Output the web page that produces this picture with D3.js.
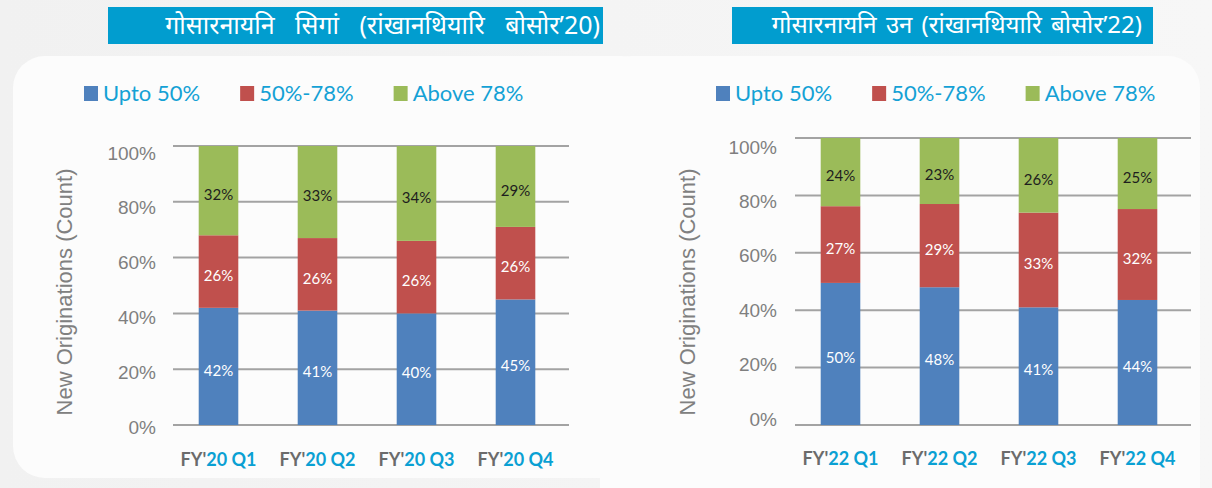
<!DOCTYPE html>
<meta charset="utf-8">
<script src="https://d3js.org/d3.v7.min.js"></script>
<style>
  body { margin: 0; background: #f4f4f4; }
</style>
<div id="my_dataviz"></div>
<script>

// ---- data ----
var seriesNames = ["Upto 50%", "50%-78%", "Above 78%"];
var seriesColors = ["#4f81bd", "#c0504d", "#9bbb59"];
var quarters = ["Q1", "Q2", "Q3", "Q4"];
var yTicks = [0, 20, 40, 60, 80, 100];

// FY'20
var title20 = "गोसारनायनि सिगां (रांखानथियारि बोसोर’20)";
var year20 = "20";
var upto50_20 = [42, 41, 40, 45];
var mid_20 = [26, 26, 26, 26];
var above78_20 = [32, 33, 34, 29];

// FY'22
var title22 = "गोसारनायनि उन (रांखानथियारि बोसोर’22)";
var year22 = "22";
var upto50_22 = [50, 48, 41, 44];
var mid_22 = [27, 29, 33, 32];
var above78_22 = [24, 23, 26, 25];

var W = 1212, H = 488;

var svg = d3.select("#my_dataviz")
  .append("svg")
    .attr("width", W)
    .attr("height", H);

// light page background + two rounded panels
var bg = svg.append("defs").append("linearGradient")
    .attr("id", "bgGrad").attr("x1", 0).attr("x2", 1);
bg.append("stop").attr("offset", "0%").attr("stop-color", "#f1f1f1");
bg.append("stop").attr("offset", "100%").attr("stop-color", "#f7f7f7");
svg.append("rect").attr("width", W).attr("height", H).attr("fill", "url(#bgGrad)");
svg.append("rect").attr("x", 600).attr("y", 56).attr("width", 600).attr("height", 470)
    .attr("rx", 32).attr("fill", "#fcfcfc");
svg.append("rect").attr("x", 13).attr("y", 56).attr("width", 640).attr("height", 422)
    .attr("rx", 32).attr("fill", "#fcfcfc");

function drawChart(cfg) {
  var g = svg.append("g");

  // title bar
  g.append("rect")
    .attr("x", cfg.titleBox[0]).attr("y", 7)
    .attr("width", cfg.titleBox[1] - cfg.titleBox[0]).attr("height", 37)
    .attr("fill", "#019dcf");
  g.append("text")
    .attr("x", cfg.titleEnd).attr("y", 25)
    .attr("dy", "0.35em")
    .attr("text-anchor", "end")
    .style("font-family", "'Noto Sans', sans-serif")
    .style("font-size", cfg.titleSize + "px")
    .style("word-spacing", cfg.titleGap + "px")
    .attr("fill", "#ffffff")
    .text(cfg.title);

  // legend
  var lx = cfg.legendX;
  seriesNames.forEach(function(name, i) {
    g.append("rect")
      .attr("x", lx).attr("y", 86)
      .attr("width", 14).attr("height", 15)
      .attr("fill", seriesColors[i]);
    var t = g.append("text")
      .attr("x", lx + 19).attr("y", 101)
      .style("font-family", "Lato, sans-serif")
      .style("font-size", "22px")
      .attr("fill", "#14a1d5")
      .text(name);
    lx += 19 + t.node().getComputedTextLength() + 40;
  });

  // stacked data
  var rows = quarters.map(function(q, i) {
    return { q: q, upto: cfg.upto[i], mid: cfg.mid[i], above: cfg.above[i] };
  });
  var keys = ["upto", "mid", "above"];
  var stacked = d3.stack().keys(keys).offset(d3.stackOffsetExpand)(rows);

  var x = d3.scaleBand()
    .domain(quarters)
    .range([cfg.plotLeft - 4, cfg.plotRight - 4])
    .paddingInner(0.6)
    .paddingOuter(0.3);

  var y = d3.scaleLinear().domain([0, 1]).range([cfg.base, cfg.top]);
  // tick labels sit slightly inside the gridline span in the source picture
  var yLab = d3.scaleLinear().domain([0, 100]).range(cfg.labelRange);

  // gridlines
  g.selectAll(".grid")
    .data(yTicks)
    .enter().append("line")
      .attr("x1", cfg.plotLeft).attr("x2", cfg.plotRight)
      .attr("y1", function(d) { return y(d / 100); })
      .attr("y2", function(d) { return y(d / 100); })
      .attr("stroke", "#a3a3a3")
      .attr("stroke-width", 2);

  // y tick labels
  var yAxis = g.append("g")
    .attr("transform", "translate(" + cfg.labelRight + ",0)")
    .call(d3.axisLeft(yLab).tickValues(yTicks).tickSize(0).tickPadding(0)
      .tickFormat(function(d) { return d + "%"; }));
  yAxis.select(".domain").remove();
  yAxis.selectAll("text")
    .style("font-family", "'Liberation Sans', Arial, sans-serif")
    .style("font-size", "19px")
    .attr("fill", "#7f7f7f");

  // y axis title
  g.append("text")
    .attr("transform", "translate(" + cfg.yTitleX + ",292) rotate(-90)")
    .attr("text-anchor", "middle")
    .attr("dy", "0.35em")
    .style("font-family", "'Liberation Sans', Arial, sans-serif")
    .style("font-size", "22px")
    .attr("fill", "#808080")
    .text("New Originations (Count)");

  // bars
  var layer = g.selectAll(".layer")
    .data(stacked)
    .enter().append("g")
      .attr("fill", function(d, i) { return seriesColors[i]; });

  layer.selectAll("rect")
    .data(function(d) { return d; })
    .enter().append("rect")
      .attr("x", function(d) { return x(d.data.q); })
      .attr("y", function(d) { return y(d[1]); })
      .attr("width", x.bandwidth())
      .attr("height", function(d) { return y(d[0]) - y(d[1]); });

  // value labels
  stacked.forEach(function(s, i) {
    g.selectAll(".lab" + i)
      .data(s)
      .enter().append("text")
        .attr("x", function(d) { return x(d.data.q) + x.bandwidth() / 2; })
        .attr("y", function(d) { return (y(d[0]) + y(d[1])) / 2 + 4; })
        .attr("dy", "0.35em")
        .attr("text-anchor", "middle")
        .style("font-family", "Lato, sans-serif")
        .style("font-size", "15px")
        .attr("fill", i === 2 ? "#1e1e1e" : "#ffffff")
        .text(function(d) { return d.data[s.key] + "%"; });
  });

  // x category labels: grey "FY'" + blue year/quarter
  quarters.forEach(function(q) {
    var t = g.append("text")
      .attr("x", x(q) + x.bandwidth() / 2)
      .attr("y", cfg.xLabelY)
      .attr("text-anchor", "middle")
      .style("font-family", "Lato, sans-serif")
      .style("font-size", "18px")
      .style("font-weight", "bold");
    t.append("tspan").attr("fill", "#6b6b6b").text("FY'");
    t.append("tspan").attr("fill", "#0aa0d3").text(cfg.year + " " + q);
  });
}

drawChart({
  title: title20, year: year20,
  upto: upto50_20, mid: mid_20, above: above78_20,
  titleBox: [108, 603], titleEnd: 600, titleSize: 25, titleGap: 14,
  legendX: 84,
  plotLeft: 173, plotRight: 569, base: 425, top: 146,
  labelRange: [427, 153], labelRight: 156,
  yTitleX: 64, xLabelY: 466
});

drawChart({
  title: title22, year: year22,
  upto: upto50_22, mid: mid_22, above: above78_22,
  titleBox: [732, 1153], titleEnd: 1142, titleSize: 24, titleGap: 3,
  legendX: 716,
  plotLeft: 795, plotRight: 1191, base: 425, top: 138,
  labelRange: [419, 147], labelRight: 777,
  yTitleX: 687, xLabelY: 465
});

</script>
